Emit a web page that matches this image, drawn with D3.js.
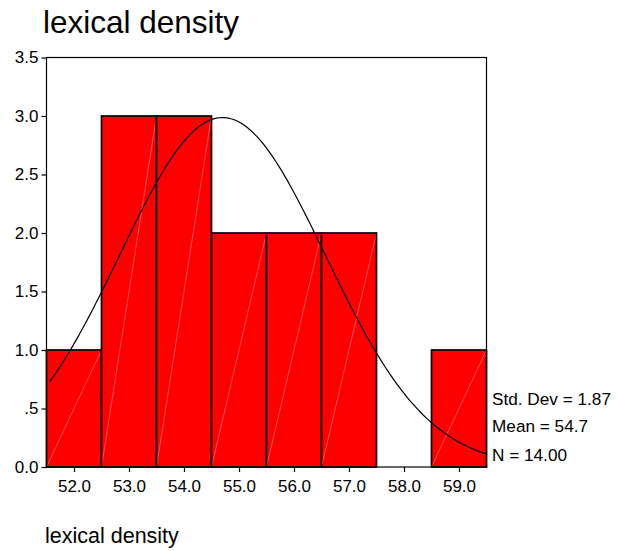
<!DOCTYPE html>
<html><head><meta charset="utf-8">
<script src="https://cdn.jsdelivr.net/npm/d3@7"></script>
<style>body{margin:0;background:#fff}svg{display:block;font-family:"Liberation Sans",Arial,sans-serif}</style>
</head><body><svg id="c" width="618" height="551"></svg>
<script>
const binStarts = [51.5, 52.5, 53.5, 54.5, 55.5, 56.5, 57.5, 58.5];
const counts = [1, 3, 3, 2, 2, 2, 0, 1];
const xTicks = [52, 53, 54, 55, 56, 57, 58, 59];
const yTicks = [0, 0.5, 1, 1.5, 2, 2.5, 3, 3.5];
const yTickLabels = ["0.0", ".5", "1.0", "1.5", "2.0", "2.5", "3.0", "3.5"];
const statLabels = ["Std. Dev = 1.87", "Mean = 54.7", "N = 14.00"];
const stdDev = 1.87, mean = 54.7, n = 14, binWidth = 1;
const curveRange = [51.56, 59.5];

const svg = d3.select("#c");
const L = 46.5, R = 486.5, T = 57.5, B = 467;
const x = d3.scaleLinear().domain([51.5, 59.5]).range([L, R]);
const y = d3.scaleLinear().domain([0, 3.5]).range([B, T]);

svg.append("text").attr("x", 43).attr("y", 33).attr("font-size", 31.5).text("lexical density");

// frame
svg.append("rect").attr("x", L).attr("y", T).attr("width", R - L).attr("height", B - T)
  .attr("fill", "none").attr("stroke", "#000").attr("stroke-width", 1.2);

// bars
const bars = svg.append("g");
binStarts.forEach((s, i) => {
  if (counts[i] <= 0) return;
  const x0 = x(s), x1 = x(s + binWidth), y0 = y(0), y1 = y(counts[i]);
  bars.append("rect").attr("x", x0).attr("y", y1).attr("width", x1 - x0).attr("height", y0 - y1)
    .attr("fill", "#ff0000");
  bars.append("line").attr("x1", x0).attr("y1", y0).attr("x2", x1).attr("y2", y1)
    .attr("stroke", "#ff8a8a").attr("stroke-width", 0.6);
  bars.append("rect").attr("x", x0).attr("y", y1).attr("width", x1 - x0).attr("height", y0 - y1)
    .attr("fill", "none").attr("stroke", "#000").attr("stroke-width", 1.7);
});

// normal curve from the stated mean / std. dev / N
const steps = 160;
const pts = d3.range(0, steps + 1).map(k => {
  const xv = curveRange[0] + k * (curveRange[1] - curveRange[0]) / steps;
  const z = (xv - mean) / stdDev;
  return [xv, n * binWidth / (stdDev * Math.sqrt(2 * Math.PI)) * Math.exp(-0.5 * z * z)];
});
svg.append("path").attr("d", d3.line().x(d => x(d[0])).y(d => y(d[1]))(pts))
  .attr("fill", "none").attr("stroke", "#000").attr("stroke-width", 1.2);

// axes
const ya = svg.append("g").attr("transform", `translate(${L},0)`)
  .call(d3.axisLeft(y).tickValues(yTicks).tickFormat((d, i) => yTickLabels[i]).tickSize(5).tickPadding(3));
const xa = svg.append("g").attr("transform", `translate(0,${B})`)
  .call(d3.axisBottom(x).tickValues(xTicks).tickFormat(d3.format(".1f")).tickSize(5).tickPadding(8));
[ya, xa].forEach(g => {
  g.select(".domain").remove();
  g.selectAll("line").attr("stroke", "#000").attr("stroke-width", 1.2);
  g.selectAll("text").attr("font-size", 17).attr("fill", "#000").attr("font-family", "Liberation Sans, Arial, sans-serif");
});

// stats
const statY = [405, 432, 461];
statLabels.forEach((t, i) => {
  svg.append("text").attr("x", 492).attr("y", statY[i]).attr("font-size", 17.2).text(t);
});

svg.append("text").attr("x", 45).attr("y", 543).attr("font-size", 21.5).text("lexical density");
</script></body></html>
